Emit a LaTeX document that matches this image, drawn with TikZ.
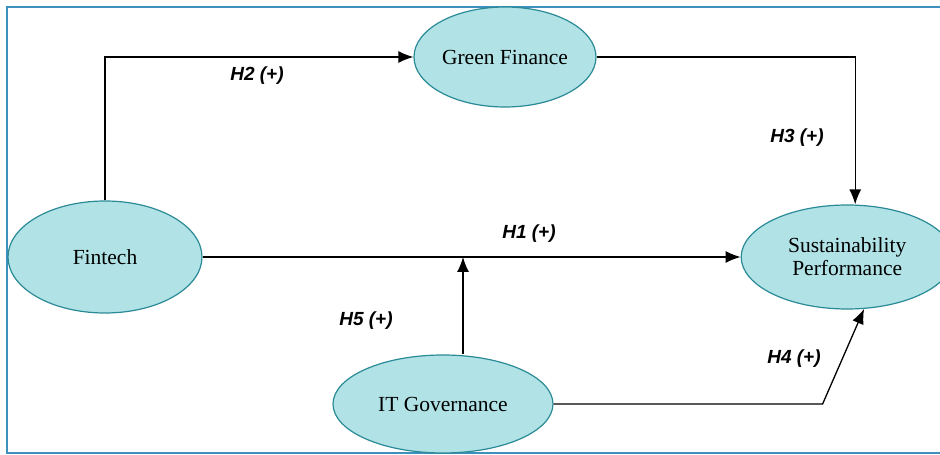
\documentclass[tikz,border=0pt]{standalone}
\usepackage{fontspec}
\setmainfont{Liberation Serif}
\newfontfamily\hypfont{Liberation Sans}
\usetikzlibrary{positioning, shapes.geometric, arrows.meta}

\definecolor{constructfill}{HTML}{B0E2E6}
\definecolor{constructline}{HTML}{2A8A96}
\definecolor{framecolor}{HTML}{3F90BC}

\begin{document}
\begin{tikzpicture}[x=1pt, y=1pt,
    construct/.style={draw=constructline, line width=1.2pt, fill=constructfill, ellipse, inner sep=0pt,
        align=center, font=\fontsize{21.5}{23}\selectfont},
    arr/.style={line width=1.3pt, -{Latex[length=15pt, width=12pt]}},
    hyp/.style={font=\hypfont\bfseries\itshape\fontsize{19}{22}\selectfont}]

    \useasboundingbox (0,0) rectangle (940,455);
    \draw[framecolor, line width=2pt] (7,2) rectangle (960,448);

    \node[construct, minimum width=194pt, minimum height=112pt] (fintech) at (105,198) {Fintech};
    \node[construct, minimum width=182pt, minimum height=100pt] (green) at (505,398) {Green Finance};
    \node[construct, minimum width=212pt, minimum height=104pt, right=538pt of fintech] (sust) {Sustainability\\Performance};
    \node[construct, minimum width=220pt, minimum height=98pt] (itgov) at (443,51) {IT Governance};

    \coordinate (h5base) at ([xshift=20pt]itgov.north);

    \draw[arr] (fintech.north) |- (green.west);
    \draw[arr] (green.east) -| ([xshift=8pt]sust.north);
    \draw[arr] (fintech.east) -- (sust.west);
    \draw[arr] (h5base) -- (h5base |- fintech.east);
    \draw[arr] (itgov.east) -- ++(269pt,0) -- (sust.-72);

    \node[hyp] (h1) at (529,221) {H1 (+)};
    \node[hyp] (h2) at (257,379) {H2 (+)};
    \node[hyp] (h3) at (797,317) {H3 (+)};
    \node[hyp] (h4) at (794,96) {H4 (+)};
    \node[hyp] (h5) at (366,134) {H5 (+)};

\end{tikzpicture}
\end{document}
